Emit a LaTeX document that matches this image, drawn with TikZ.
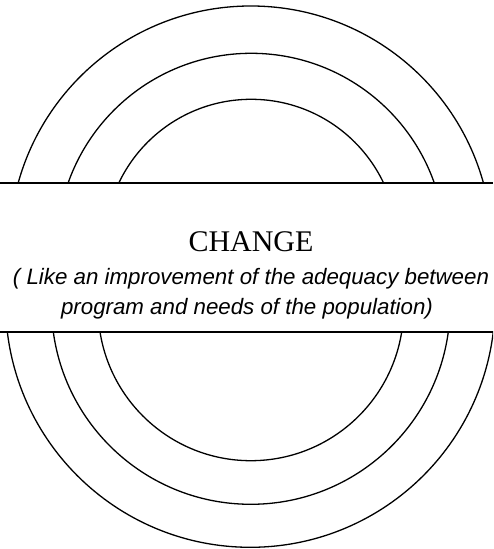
\documentclass[tikz,border=0pt]{standalone}
\usepackage{fontspec}
\setmainfont{Liberation Serif}
\newfontfamily\arialfont{Liberation Sans}
\begin{document}
\begin{tikzpicture}[x=1pt,y=1pt,
  band/.style={line width=1.9pt},
  ring/.style={line width=1.3pt},
  titletext/.style={inner sep=0pt,anchor=base,font=\fontsize{30}{36}\selectfont},
  subtext/.style={inner sep=0pt,anchor=base,font=\arialfont\itshape\fontsize{22.3}{27}\selectfont}]
\useasboundingbox (0,0) rectangle (493,549);
% upper rings
\begin{scope}
  \clip (0,366.3) rectangle (493,549);
  \draw[ring] (250.8,301.7) circle[radius=241.3];
  \draw[ring] (251.2,301.7) circle[radius=194];
  \draw[ring] (251.2,303.2) circle[radius=146.5];
\end{scope}
% lower rings
\begin{scope}
  \clip (0,0) rectangle (493,217.3);
  \draw[ring] (250.3,246.4) circle[radius=244.7];
  \draw[ring] (250.8,244) circle[radius=199.3];
  \draw[ring] (250.85,241) circle[radius=152.7];
\end{scope}
% band borders
\coordinate (tl) at (0,366.3);
\coordinate (tr) at (493,366.3);
\coordinate (bl) at (0,217.3);
\coordinate (br) at (493,217.3);
\draw[band] (tl) -- (tr);
\draw[band] (bl) -- (br);
% texts
\node[titletext] (change) at (251,297.3) {CHANGE};
\node[subtext] (line1) at (251,264) {( Like an improvement of the adequacy between};
\node[subtext] (line2) at (247,234) {program and needs of the population)};
\end{tikzpicture}
\end{document}
